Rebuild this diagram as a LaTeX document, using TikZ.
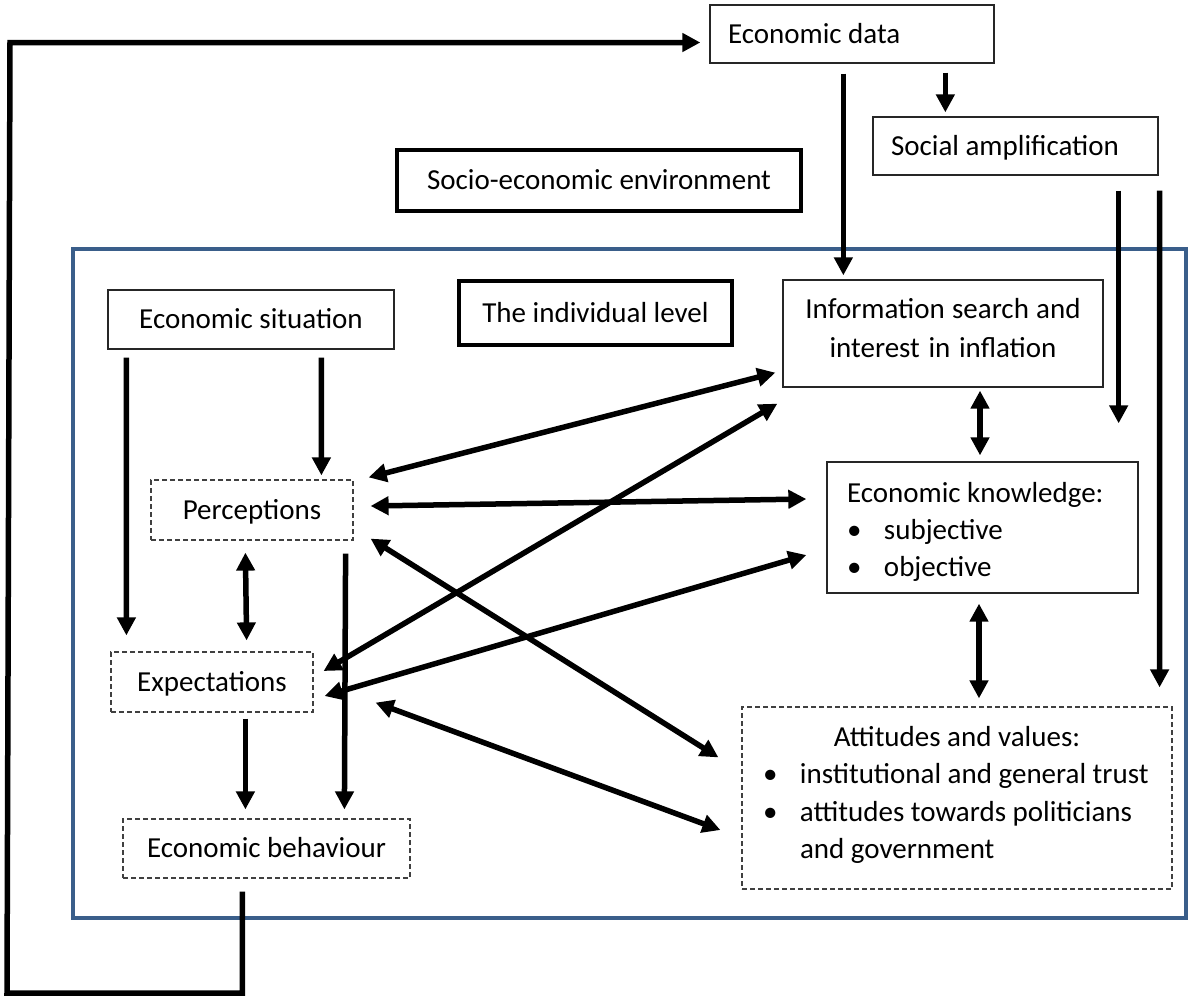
\documentclass[tikz,border=0pt]{standalone}
\usepackage{fontspec}
\setmainfont{Carlito}
\usetikzlibrary{arrows.meta,calc}
\definecolor{frameblue}{RGB}{58,94,138}
\newcommand{\natspace}{\spaceskip=0pt\xspaceskip=0pt\relax}
\begin{document}
\begin{tikzpicture}[x=1pt,y=-1pt,
  base/.style={inner sep=0pt, font=\fontsize{29}{37}\selectfont},
  one/.style={base, text height=22pt, text depth=4pt},
  thinbox/.style={draw=black!85, line width=1.3pt},
  thickbox/.style={draw=black, line width=4pt},
  dashbox/.style={draw=black!75, line width=1.2pt, dash pattern=on 5pt off 3pt},
  arr/.style={line width=5.5pt, -{Triangle[length=18pt,width=18pt]}},
  darr/.style={line width=5.5pt, {Triangle[length=18pt,width=18pt]}-{Triangle[length=18pt,width=18pt]}},
]
\useasboundingbox (0,0) rectangle (1189,997);

% frame of the individual level
\node[draw=frameblue, line width=4.5pt, minimum width=1113pt, minimum height=669pt, inner sep=0pt] (frame) at (629.5,583.5) {};

% boxes
\node[one, thinbox, minimum width=284pt, minimum height=58pt, text width=248pt, inner xsep=18pt, align=left] (data) at (852,34) {\natspace Economic data};
\node[one, thinbox, minimum width=285pt, minimum height=58pt, text width=249pt, inner xsep=18pt, align=left] (soc) at (1015.5,146) {\natspace Social amplification};
\node[one, thickbox, minimum width=404pt, minimum height=61pt] (env) at (599,180.5) {Socio-economic environment};
\node[one, thinbox, minimum width=286pt, minimum height=59pt] (sit) at (251,319.5) {Economic situation};
\node[one, thickbox, minimum width=273pt, minimum height=64pt] (ind) at (595.5,313) {The individual level};
\node[base, thinbox, minimum width=320pt, minimum height=107pt, text width=300pt, inner xsep=10pt, align=center, font=\fontsize{29}{39}\selectfont, text height=20pt, text depth=51pt] (info) at (943,333.5) {\natspace Information search and\\\natspace interest in inflation};
\node[base, thinbox, minimum width=311pt, minimum height=131pt, text width=271pt, inner xsep=20pt, align=left, text height=20pt, text depth=71pt] (know) at (982.5,527.5) {\natspace Economic knowledge:\\\makebox[37pt][l]{\textbullet}subjective\\\makebox[37pt][l]{\textbullet}objective};
\node[one, dashbox, minimum width=202pt, minimum height=60pt] (perc) at (252,510) {Perceptions};
\node[one, dashbox, minimum width=202pt, minimum height=60pt] (exp) at (212,682) {Expectations};
\node[one, dashbox, minimum width=287pt, minimum height=59pt] (beh) at (266.5,848.5) {Economic behaviour};
\node[base, dashbox, minimum width=430pt, minimum height=182pt, text width=388pt, inner xsep=21pt, align=left, font=\fontsize{29}{37.5}\selectfont, text height=20pt, text depth=124pt] (att) at (957,798) {\natspace\makebox[\linewidth][c]{Attitudes and values:}\\\natspace\mbox{\makebox[37pt][l]{\textbullet}institutional and general trust}\\\natspace\mbox{\makebox[37pt][l]{\textbullet}attitudes towards politicians}\\\natspace\mbox{\hspace*{37pt}and government}};

% connectors
\draw[arr] ($(sit.south west)+(19,8)$) -- ($(exp.north west)+(16,-16)$);
\draw[arr] ($(sit.south west)+(214,8)$) -- ($(perc.north west)+(171,-4)$);
\draw[darr] ($(perc.south west)+(95,12)$) -- ($(exp.north east)+(-67,-11)$);
\draw[arr] ($(perc.south east)+(-8,13)$) -- ($(beh.north west)+(222,-9)$);
\draw[arr] ($(exp.south west)+(135,6)$) -- ($(beh.north west)+(123,-9)$);
\draw[darr] ($(perc.north east)+(15,-2)$) -- ($(info.south west)+(-7,-15)$);
\draw[darr] ($(exp.east)+(10,-11)$) -- ($(info.south west)+(-5,16)$);
\draw[darr] ($(perc.east)+(17,-4)$) -- ($(know.west)+(-20,-28.5)$);
\draw[darr] ($(exp.east)+(11,14)$) -- ($(know.west)+(-20,27.5)$);
\draw[darr] ($(perc.south east)+(17,-2)$) -- ($(att.north west)+(-23,51)$);
\draw[darr] ($(exp.south east)+(62,-10)$) -- ($(att.west)+(-21,32)$);
\draw[darr] ($(info.south)+(37,3)$) -- ($(know.north)+(-2.5,-6)$);
\draw[darr] ($(know.south)+(-3.5,10)$) -- ($(att.north)+(22,-8)$);
\draw[arr] ($(soc.south east)+(-40,15)$) -- ($(know.north east)+(-20,-38)$);
\draw[arr] ($(soc.south east)+(1,15)$) -- ($(att.north east)+(-13,-19)$);
\draw[arr] ($(data.south west)+(134,10)$) -- ($(info.north west)+(61,-4)$);
\draw[arr] ($(data.south west)+(236,9)$) -- ($(soc.north west)+(73,-4)$);

% feedback loop
\coordinate (loopbl) at (7,993);
\coordinate (looptl) at (10,42.5);
\draw[arr, line join=miter] ($(beh.south west)+(120,13)$) coordinate (fbstart) -- (fbstart |- loopbl) -- (loopbl) -- (looptl) -- ($(data.west)+(-9,8.5)$);
\end{tikzpicture}
\end{document}
